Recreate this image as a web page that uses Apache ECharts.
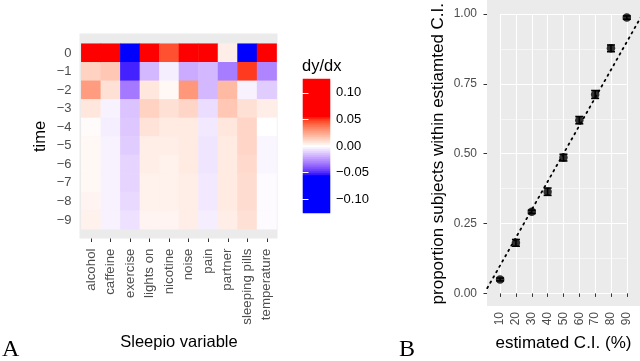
<!DOCTYPE html>
<html><head><meta charset="utf-8">
<script src="https://cdn.jsdelivr.net/npm/echarts@6/dist/echarts.min.js"></script>
<style>html,body{margin:0;padding:0;background:#fff}#c{width:640px;height:361px}</style>
</head><body><div id="c"></div>
<script>
// ---------- Panel A data ----------
const variables = ['alcohol','caffeine','exercise','lights on','nicotine','noise','pain','partner','sleeping pills','temperature'];
const times = [0,-1,-2,-3,-4,-5,-6,-7,-8,-9];
// dy/dx for each Sleepio variable at time 0, -1, ..., -9
const alcohol      = [0.110, 0.013, 0.028, 0.007, 0.001, 0.002, 0.002, 0.002, 0.003, 0.004];
const caffeine     = [0.100, 0.016, 0.009,-0.003,-0.004,-0.003,-0.003,-0.003,-0.003,-0.003];
const exercise     = [-0.125,-0.051,-0.032,-0.014,-0.013,-0.012,-0.010,-0.010,-0.009,-0.007];
const lightsOn     = [0.127,-0.017, 0.007, 0.013, 0.008, 0.005, 0.005, 0.004, 0.004, 0.003];
const nicotine     = [0.046,-0.004, 0.002, 0.009, 0.006, 0.005, 0.004, 0.004, 0.004, 0.003];
const noise        = [0.090,-0.020, 0.029, 0.012, 0.006, 0.006, 0.006, 0.005, 0.005, 0.005];
const pain         = [0.080,-0.017,-0.017,-0.008,-0.005,-0.006,-0.006,-0.005,-0.005,-0.004];
const partner      = [0.005,-0.031, 0.020, 0.016, 0.007, 0.006, 0.006, 0.006, 0.006, 0.005];
const sleepingPills= [-0.110, 0.050,-0.003, 0.009, 0.012, 0.012, 0.011, 0.010, 0.010, 0.009];
const temperature  = [0.070,-0.029,-0.012, 0.005, 0.000,-0.002,-0.002,-0.001,-0.001,-0.001];
const legendTicks = [0.10, 0.05, 0.00, -0.05, -0.10];
const fillLimits = [-0.126, 0.126];

// ---------- Panel B data ----------
const ciLevels   = [10, 20, 30, 40, 50, 60, 70, 80, 90];
const proportion = [0.050, 0.181, 0.292, 0.364, 0.486, 0.620, 0.712, 0.877, 0.987];
const ciHalf     = [0.005, 0.012, 0.006, 0.013, 0.012, 0.013, 0.014, 0.012, 0.006];
const refLine    = [[0, 0], [100, 1]];

// ---------- colour scale (Lab interpolation, like ggplot gradient2) ----------
function toLin(c){c/=255;return c<=0.04045?c/12.92:Math.pow((c+0.055)/1.055,2.4);}
function fromLin(c){const v=c<=0.0031308?12.92*c:1.055*Math.pow(c,1/2.4)-0.055;return Math.round(Math.max(0,Math.min(1,v))*255);}
function rgb2lab(rgb){const [r,g,b]=rgb.map(toLin);
  const x=(0.4124*r+0.3576*g+0.1805*b)/0.95047, y=(0.2126*r+0.7152*g+0.0722*b), z=(0.0193*r+0.1192*g+0.9505*b)/1.08883;
  const f=t=>t>0.008856?Math.cbrt(t):7.787*t+16/116;
  const fx=f(x),fy=f(y),fz=f(z);return [116*fy-16,500*(fx-fy),200*(fy-fz)];}
function lab2rgb(L,a,b){const fy=(L+16)/116,fx=fy+a/500,fz=fy-b/200;
  const fi=t=>t*t*t>0.008856?t*t*t:(t-16/116)/7.787;
  const x=fi(fx)*0.95047,y=fi(fy),z=fi(fz)*1.08883;
  const r=3.2406*x-1.5372*y-0.4986*z,g=-0.9689*x+1.8758*y+0.0415*z,bb=0.0557*x-0.2040*y+1.0570*z;
  return 'rgb('+fromLin(r)+','+fromLin(g)+','+fromLin(bb)+')';}
const LW=rgb2lab([255,255,255]), LR=rgb2lab([255,0,0]), LB=rgb2lab([0,0,255]);
const SAT=0.055;
function colorAt(v){let t=Math.max(-1,Math.min(1,v/SAT));const E=t>=0?LR:LB;t=Math.abs(t);
  return lab2rgb(LW[0]+(E[0]-LW[0])*t,LW[1]+(E[1]-LW[1])*t,LW[2]+(E[2]-LW[2])*t);}
const stops=[];const NS=101;
for(let i=0;i<NS;i++){stops.push(colorAt(fillLimits[0]+(fillLimits[1]-fillLimits[0])*i/(NS-1)));}

const seriesByVar=[alcohol,caffeine,exercise,lightsOn,nicotine,noise,pain,partner,sleepingPills,temperature];
const heatData=[];
seriesByVar.forEach((arr,xi)=>arr.forEach((v,yi)=>heatData.push([xi,yi,v])));

// colour bar bins over the fill limits
const NBIN=67, binIdx=[], barData=[];
for(let i=0;i<NBIN;i++){binIdx.push(i);barData.push([0,i,fillLimits[0]+(fillLimits[1]-fillLimits[0])*(i+0.5)/NBIN]);}

const minus=s=>String(s).replace('-','\u2212');
const FONT='"Liberation Sans", Arial, sans-serif';
const GREY='#4D4D4D';

const chart=echarts.init(document.getElementById('c'),null,{renderer:'canvas'});
chart.setOption({
  animation:false,
  textStyle:{fontFamily:FONT},
  title:[
    {text:'dy/dx',left:302,top:58,padding:0,textStyle:{fontSize:16.5,fontWeight:'normal',color:'#000',fontFamily:FONT}},
    {text:'A',left:2,top:338,padding:0,textStyle:{fontSize:24,fontWeight:'normal',color:'#000',fontFamily:'"Liberation Serif", serif'}},
    {text:'B',left:399,top:338,padding:0,textStyle:{fontSize:24,fontWeight:'normal',color:'#000',fontFamily:'"Liberation Serif", serif'}}
  ],
  grid:[
    {left:79.5,top:33.5,width:198,height:205,show:true,backgroundColor:'#EBEBEB',borderWidth:0},
    {left:91.07,top:52.98,width:175.77,height:166.95,show:false},
    {left:81.3,top:43.7,width:195.3,height:185.5,show:false},
    {left:303,top:79,width:27,height:134,show:false},
    {left:487,top:0,width:153,height:306,show:true,backgroundColor:'#EBEBEB',borderWidth:0},
    {left:500.1,top:14,width:126.7,height:279.4,show:false}
  ],
  xAxis:[
    {gridIndex:0,type:'value',min:0,max:1,show:false},
    {gridIndex:1,type:'value',min:0,max:9,interval:1,axisLine:{show:false},axisTick:{show:false},axisLabel:{show:false},
      splitLine:{show:true,lineStyle:{color:'#FFFFFF',width:1.1}}},
    {gridIndex:2,type:'category',data:variables,position:'bottom',offset:9.3,
      axisLine:{show:false},axisTick:{show:true,alignWithLabel:true,length:3.5,lineStyle:{color:'#333333',width:1}},
      axisLabel:{rotate:90,fontSize:13.3,color:GREY,margin:10,fontFamily:FONT,interval:0},
      splitLine:{show:false},
      name:'Sleepio variable',nameLocation:'middle',nameGap:95,nameTextStyle:{fontSize:16.5,color:'#000',fontFamily:FONT}},
    {gridIndex:3,type:'value',min:0,max:1,show:false},
    {gridIndex:4,type:'value',min:1.73,max:98.33,show:false},
    {gridIndex:5,type:'value',min:10,max:90,interval:10,offset:12.6,
      axisLine:{show:false},axisTick:{show:true,length:3.5,lineStyle:{color:'#333333'}},
      axisLabel:{rotate:90,fontSize:12,color:GREY,margin:6,fontFamily:FONT},
      splitLine:{show:true,lineStyle:{color:'#FFFFFF',width:1.1}},
      name:'estimated C.I. (%)',nameLocation:'middle',nameGap:29,nameTextStyle:{fontSize:17,color:'#000',fontFamily:FONT}},
    {gridIndex:3,type:'category',data:['bar'],show:false}
  ],
  yAxis:[
    {gridIndex:0,type:'value',min:0,max:1,show:false},
    {gridIndex:1,type:'value',min:-9,max:0,interval:1,offset:11.6,
      axisLine:{show:false},axisTick:{show:true,length:3.5,lineStyle:{color:'#333333'}},
      axisLabel:{fontSize:13,color:GREY,margin:8,fontFamily:FONT,formatter:v=>minus(v)},
      splitLine:{show:false},
      name:'time',nameLocation:'middle',nameGap:31,nameTextStyle:{fontSize:16.5,color:'#000',fontFamily:FONT}},
    {gridIndex:2,type:'category',data:times,inverse:true,show:false},
    {gridIndex:3,type:'value',min:fillLimits[0],max:fillLimits[1],position:'right',z:10,
      axisLine:{show:false},
      axisTick:{show:true,inside:true,length:5.5,customValues:legendTicks,lineStyle:{color:'#FFFFFF',width:1}},
      axisLabel:{show:true,customValues:legendTicks,fontSize:13,color:'#000',margin:6,fontFamily:FONT,
        formatter:v=>minus(Number(v).toFixed(2))},
      splitLine:{show:false}},
    {gridIndex:3,type:'value',min:fillLimits[0],max:fillLimits[1],position:'left',z:10,
      axisLine:{show:false},
      axisTick:{show:true,inside:true,length:5.5,customValues:legendTicks,lineStyle:{color:'#FFFFFF',width:1}},
      axisLabel:{show:false},splitLine:{show:false}},
    {gridIndex:4,type:'value',min:-0.045,max:1.05,show:false},
    {gridIndex:5,type:'value',min:0,max:1,interval:0.25,offset:13.1,
      axisLine:{show:false},axisTick:{show:true,length:3.5,lineStyle:{color:'#333333'}},
      axisLabel:{fontSize:12,color:GREY,margin:10,fontFamily:FONT,formatter:v=>Number(v).toFixed(2)},
      splitLine:{show:true,lineStyle:{color:'#FFFFFF',width:1.1}},
      minorTick:{show:false,splitNumber:2},
      minorSplitLine:{show:true,lineStyle:{color:'#FFFFFF',width:0.55}},
      name:'proportion subjects within estiamted C.I.',nameLocation:'middle',nameGap:40,
      nameTextStyle:{fontSize:17,color:'#000',fontFamily:FONT}},
    {gridIndex:3,type:'category',data:binIdx,show:false}
  ],
  visualMap:{
    type:'continuous',seriesIndex:[0,4],min:fillLimits[0],max:fillLimits[1],
    calculable:false,show:false,inRange:{color:stops}
  },
  series:[
    {type:'heatmap',xAxisIndex:2,yAxisIndex:2,data:heatData,itemStyle:{borderWidth:0},emphasis:{disabled:true},progressive:0},
    {type:'line',xAxisIndex:4,yAxisIndex:5,data:refLine,symbol:'none',silent:true,clip:true,
      lineStyle:{color:'#000',width:1.8,type:[1.5,4.6],cap:'round'}},
    {type:'custom',xAxisIndex:4,yAxisIndex:5,silent:true,
      data:ciLevels.map((c,i)=>[c,proportion[i]-ciHalf[i],proportion[i]+ciHalf[i]]),
      renderItem:function(params,api){
        const x=api.value(0),lo=api.coord([x,api.value(1)]),hi=api.coord([x,api.value(2)]);const w=4;
        const st={stroke:'#000',lineWidth:1.6};
        return {type:'group',children:[
          {type:'line',shape:{x1:lo[0],y1:lo[1],x2:hi[0],y2:hi[1]},style:st},
          {type:'line',shape:{x1:lo[0]-w,y1:lo[1],x2:lo[0]+w,y2:lo[1]},style:st},
          {type:'line',shape:{x1:hi[0]-w,y1:hi[1],x2:hi[0]+w,y2:hi[1]},style:st}]};
      }},
    {type:'scatter',xAxisIndex:4,yAxisIndex:5,silent:true,
      data:ciLevels.map((c,i)=>[c,proportion[i]]),symbol:'circle',symbolSize:8.5,itemStyle:{color:'#000'}},
    {type:'heatmap',xAxisIndex:6,yAxisIndex:7,data:barData,silent:true,itemStyle:{borderWidth:0},emphasis:{disabled:true},progressive:0}
  ]
});
</script></body></html>
